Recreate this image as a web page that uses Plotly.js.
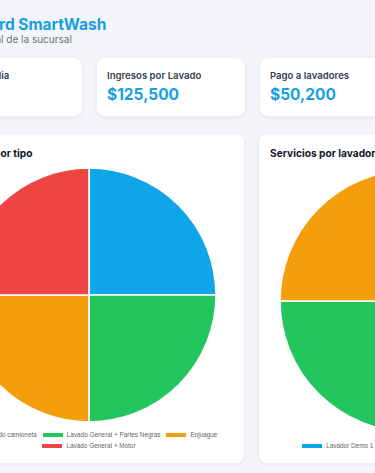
<!DOCTYPE html>
<html>
<head>
<meta charset="utf-8">
<script src="https://cdn.plot.ly/plotly-3.0.1.min.js"></script>
<style>
  html, body { margin:0; padding:0; }
  body { width:375px; height:473px; overflow:hidden; background:#f3f5f9; position:relative; font-family: Inter, "Noto Sans", sans-serif; }
  .card { position:absolute; background:#fff; border-radius:9px; box-shadow:0 1px 3px rgba(15,23,42,0.06); border:1px solid #eceff4; box-sizing:border-box; }
  .h1 { position:absolute; font-weight:700; font-size:15.5px; line-height:17px; color:#1a9ee3; white-space:nowrap; }
  .sub { position:absolute; font-size:10px; line-height:11px; color:#6b7280; white-space:nowrap; }
  .klabel { position:absolute; font-size:9.6px; line-height:12px; font-weight:600; color:#374151; white-space:nowrap; }
  .kval { position:absolute; font-size:15.5px; line-height:19px; font-weight:700; color:#1a9ee3; white-space:nowrap; }
  .ctitle { position:absolute; font-size:10.2px; line-height:13px; font-weight:700; color:#111827; white-space:nowrap; }
  .plot { position:absolute; }
  .legend { position:absolute; font-family: "Liberation Sans", Arial, sans-serif; font-size:6.4px; color:#666; }
  .lrow { display:flex; justify-content:center; align-items:center; height:11px; white-space:nowrap; }
  .litem { display:flex; align-items:center; }
  .lbox { width:20px; height:4px; margin-right:4px; }
</style>
</head>
<body>
<div id="root"></div>
<script>
// ---- data ----
const pageTitle = "Dashboard SmartWash";
const pageSubtitle = "Panel general de la sucursal";
const kpiLabels = ["Ventas del dia", "Ingresos por Lavado", "Pago a lavadores", "Ganancia neta"];
const kpiValues = ["4", "$125,500", "$50,200", "$75,300"];

const tipoTitle = "Servicios por tipo";
const tipoLabels = ["Lavado camioneta", "Lavado General + Partes Negras", "Enjuague", "Lavado General + Motor"];
const tipoValues = [1, 1, 1, 1];
const tipoColors = ["#0ea5e9", "#22c55e", "#f59e0b", "#ef4444"];

const lavTitle = "Servicios por lavador";
const lavLabels = ["Lavador Demo 1", "Lavador Demo 2", "Lavador Demo 3"];
const lavValues = [1, 2, 1];
const lavColors = ["#0ea5e9", "#22c55e", "#f59e0b"];

// ---- layout ----
const root = document.getElementById('root');
function el(cls, css, text) {
  const d = document.createElement('div');
  d.className = cls;
  Object.assign(d.style, css || {});
  if (text !== undefined) d.textContent = text;
  root.appendChild(d);
  return d;
}
const X0 = -67;
el('h1', {left:(X0-1)+'px', top:'16px'}, pageTitle);
el('sub', {left:(X0+6)+'px', top:'34px'}, pageSubtitle);

const kw = 150, kg = 13;
kpiLabels.forEach((lab, i) => {
  const left = X0 + i*(kw+kg);
  el('card', {left:left+'px', top:'57px', width:kw+'px', height:'60px'});
  el('klabel', {left:(left+11)+'px', top:'70px'}, lab);
  el('kval', {left:(left+11)+'px', top:'84.5px'}, kpiValues[i]);
});

const cw = 312, ch = 331, ct = 133;
const c1 = X0, c2 = X0 + cw + kg;
el('card', {left:c1+'px', top:ct+'px', width:cw+'px', height:ch+'px'});
el('card', {left:c2+'px', top:ct+'px', width:cw+'px', height:ch+'px'});
el('ctitle', {left:(c1+12)+'px', top:'147px'}, tipoTitle);
el('ctitle', {left:(c2+12)+'px', top:'147px'}, lavTitle);

function legend(left, top, width, rows, labels, colors, gap) {
  const lg = el('legend', {left:left+'px', top:top+'px', width:width+'px'});
  rows.forEach(r => {
    const row = document.createElement('div');
    row.className = 'lrow';
    r.forEach((k, j) => {
      const it = document.createElement('div');
      it.className = 'litem';
      if (j > 0) it.style.marginLeft = gap + 'px';
      const b = document.createElement('div');
      b.className = 'lbox';
      b.style.background = colors[k];
      const t = document.createElement('span');
      t.textContent = labels[k];
      it.appendChild(b); it.appendChild(t);
      row.appendChild(it);
    });
    lg.appendChild(row);
  });
}
legend(c1 + 1, 429, cw - 2, [[0,1,2],[3]], tipoLabels, tipoColors, 6);
legend(c2 + 0, 440, cw, [[0,1,2]], lavLabels, lavColors, 5);

function pie(id, left, top, w, h, m, labels, values, colors) {
  const d = document.createElement('div');
  d.id = id; d.className = 'plot';
  Object.assign(d.style, {left:left+'px', top:top+'px', width:w+'px', height:h+'px'});
  document.body.appendChild(d);
  Plotly.newPlot(d, [{
    type:'pie', labels:labels, values:values, sort:false,
    direction:'clockwise', rotation:0, textinfo:'none', hoverinfo:'label+value',
    marker:{colors:colors, line:{color:'#ffffff', width:1.6}}
  }], {
    width:w, height:h, margin:m, showlegend:false,
    paper_bgcolor:'rgba(0,0,0,0)', plot_bgcolor:'rgba(0,0,0,0)'
  }, {staticPlot:true, displayModeBar:false});
}
// left pie: center (89,295) r 127
pie('p1', c1, ct, cw, 300, {l:29, r:cw-29-254, t:35, b:300-35-254}, tipoLabels, tipoValues, tipoColors);
// right pie: center (411,301) r 131
pie('p2', c2, ct, cw, 305, {l:411-131-c2, r:cw-(411-131-c2)-262, t:37, b:305-37-262}, lavLabels, lavValues, lavColors);
</script>
</body>
</html>
